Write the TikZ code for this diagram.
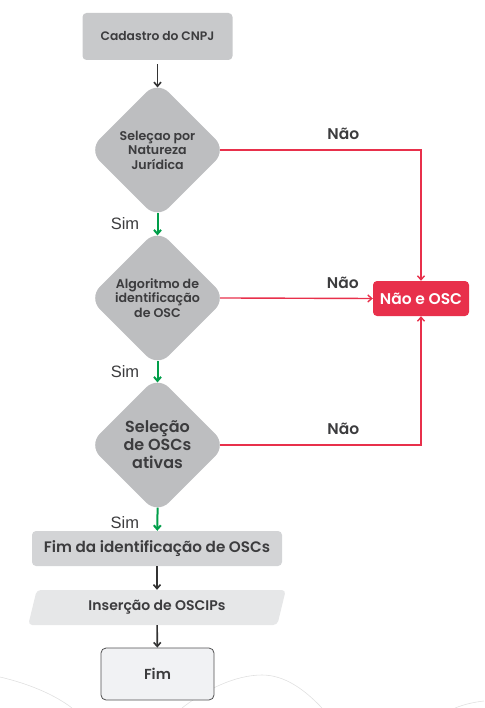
\documentclass[tikz,border=0pt]{standalone}
\usepackage{fontspec}
\setmainfont{Poppins}[UprightFont=* Medium,BoldFont=* SemiBold]
\newfontfamily\simfont{Liberation Sans}
\usetikzlibrary{shapes.geometric,arrows.meta}
\definecolor{txtgray}{HTML}{3C3C3E}
\definecolor{boxgray}{HTML}{C8C9CB}
\definecolor{diagray}{HTML}{BDBEC0}
\definecolor{fimgray}{HTML}{D3D4D6}
\definecolor{iogray}{HTML}{E6E7E8}
\definecolor{endgray}{HTML}{F1F2F4}
\definecolor{simgreen}{HTML}{009E49}
\definecolor{naored}{HTML}{E8304B}
\definecolor{arrowgray}{HTML}{333333}
\tikzset{
  box/.style={rectangle,rounded corners=4pt,fill=boxgray,text=txtgray,inner sep=0pt},
  decision/.style={diamond,aspect=1,rounded corners=16pt,fill=diagray,text=txtgray,minimum width=138pt,minimum height=138pt,inner sep=0pt,align=center,font=\bfseries\fontsize{12.6}{14.5}\selectfont},
  io/.style={trapezium,trapezium left angle=71,trapezium right angle=109,trapezium stretches=true,rounded corners=4pt,fill=iogray,text=txtgray,minimum width=258pt,minimum height=35pt,inner sep=0pt,font=\bfseries\fontsize{14}{16}\selectfont},
  endbox/.style={rectangle,rounded corners=5pt,draw=txtgray!90,line width=0.8pt,fill=endgray,text=txtgray,minimum width=113pt,minimum height=52pt,font=\bfseries\fontsize{14.5}{16}\selectfont},
  nobox/.style={rectangle,rounded corners=4pt,fill=naored,text=white,minimum width=96pt,minimum height=35pt,inner sep=0pt,font=\bfseries\fontsize{15.5}{18}\selectfont},
  flow/.style={->,draw=arrowgray,line width=1.6pt},
  yes/.style={->,draw=simgreen,line width=2pt},
  no/.style={->,draw=naored,line width=1.4pt},
  lbl/.style={text=txtgray,font=\bfseries\fontsize{15.5}{18}\selectfont},
  simlbl/.style={text=txtgray,font=\simfont\fontsize{16.5}{18}\selectfont},
  bgline/.style={draw=black!12,line width=0.6pt}
}
\begin{document}
\begin{tikzpicture}[x=1pt,y=-1pt,>={Straight Barb[length=4pt,width=7pt]}]
\useasboundingbox (0,0) rectangle (484,708);
% linhas de fundo
\draw[bgline] (0,677) .. controls (30,684) and (55,695) .. (72,708);
\draw[bgline] (182,708) .. controls (205,690) and (235,675) .. (262,675) .. controls (285,675) and (305,690) .. (322,708);
\draw[bgline] (455,708) .. controls (465,704) and (475,702) .. (484,701);

\node[box,minimum width=150pt,minimum height=47pt,font=\bfseries\fontsize{12.3}{14}\selectfont] (cnpj) at (157.5,36.5) {Cadastro do CNPJ};
\node[decision] (natureza) at (157.5,150) {Seleçao por\\Natureza\\Jurídica};
\node[decision] (algoritmo) at (157.5,298) {Algoritmo de\\identificação\\de OSC};
\node[decision,font=\bfseries\fontsize{16}{18}\selectfont] (ativas) at (157.5,445) {Seleção\\de OSCs\\ativas};
\node[box,fill=fimgray,minimum width=250pt,minimum height=35pt,font=\bfseries\fontsize{15.2}{17}\selectfont] (fimid) at (157,548.5) {Fim da identificação de OSCs};
\node[io] (oscip) at (157,607.5) {Inserção de OSCIPs};
\node[endbox] (fim) at (157.5,674) {Fim};
\node[nobox] (naoosc) at (421,298.5) {Não e OSC};

\draw[flow,shorten <=4pt,shorten >=-6.6pt] (cnpj) -- (natureza.north);
\draw[yes,shorten <=-6.6pt,shorten >=-6.6pt] (natureza.south) -- node[simlbl,left=14pt]{Sim} (algoritmo.north);
\draw[yes,shorten <=-6.6pt,shorten >=-6.6pt] (algoritmo.south) -- node[simlbl,left=14pt]{Sim} (ativas.north);
\draw[yes,shorten <=-6.6pt] (ativas.south) -- node[simlbl,left=14pt]{Sim} (fimid);
\draw[flow] (fimid) -- (oscip);
\draw[flow] (oscip) -- (fim);

\draw[no,shorten <=-6.6pt] (natureza.east) -| node[lbl,pos=0.3,above=6pt]{Não} (naoosc.north);
\draw[no,shorten <=-6.6pt] (algoritmo.east) -- node[lbl,pos=0.795,above=6pt]{Não} (naoosc.west);
\draw[no,shorten <=-6.6pt] (ativas.east) -| node[lbl,pos=0.3,above=6pt]{Não} (naoosc.south);
\end{tikzpicture}
\end{document}
